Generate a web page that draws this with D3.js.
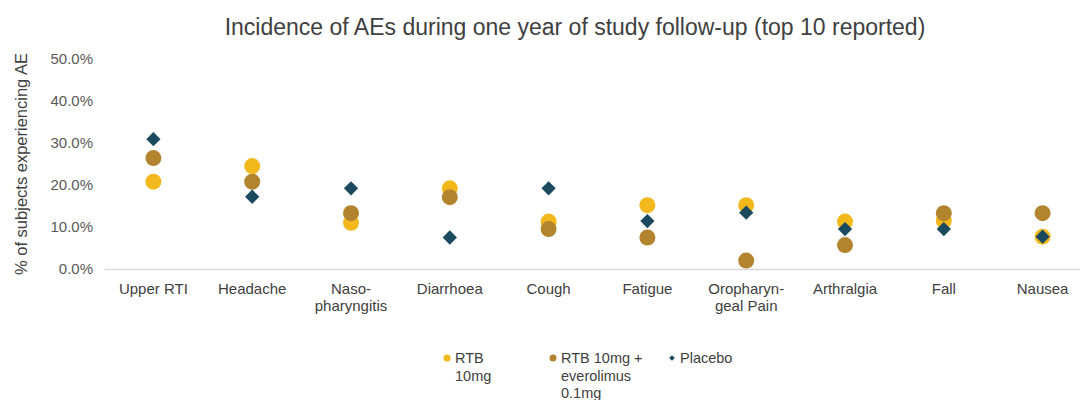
<!DOCTYPE html>
<html>
<head>
<meta charset="utf-8">
<script src="https://cdn.jsdelivr.net/npm/d3@7"></script>
<style>
  body { margin: 0; background: #fff; }
  text { font-family: "Liberation Sans", Arial, sans-serif; }
</style>
</head>
<body>
<div id="chart"></div>
<script>
const categories = ['Upper RTI', 'Headache', 'Naso-\npharyngitis', 'Diarrhoea', 'Cough', 'Fatigue',
  'Oropharyn-\ngeal Pain', 'Arthralgia', 'Fall', 'Nausea'];
const rtb10 = [20.8, 24.5, 11.0, 19.2, 11.3, 15.2, 15.2, 11.3, 11.5, 7.7];
const rtbEvero = [26.4, 20.8, 13.3, 17.1, 9.5, 7.5, 2.0, 5.7, 13.3, 13.3];
const placebo = [30.9, 17.2, 19.2, 7.5, 19.2, 11.4, 13.4, 9.5, 9.5, 7.7];
const yTicks = [0, 10, 20, 30, 40, 50];

const width = 1080, height = 400;
const margin = { top: 59, left: 104, right: -12, bottom: 131 };

const svg = d3.select('#chart').append('svg')
  .attr('width', width)
  .attr('height', height);

// scales
const x = d3.scaleBand().domain(categories).range([margin.left, width - margin.right]);
const y = d3.scaleLinear().domain([0, 50]).range([height - margin.bottom, margin.top]);

// title
svg.append('text')
  .attr('x', 575).attr('y', 35)
  .attr('text-anchor', 'middle')
  .style('font-size', '23px').style('fill', '#404040')
  .text('Incidence of AEs during one year of study follow-up (top 10 reported)');

// y axis
const yAxis = svg.append('g')
  .attr('transform', `translate(${margin.left}, 0)`)
  .call(d3.axisLeft(y).tickValues(yTicks).tickSize(0).tickPadding(11).tickFormat(d => d.toFixed(1) + '%'));
yAxis.select('.domain').remove();
yAxis.selectAll('text').style('font-size', '15px').style('fill', '#595959');

svg.append('text')
  .attr('transform', `translate(27, ${(y(0) + y(50)) / 2}) rotate(-90)`)
  .attr('text-anchor', 'middle')
  .style('font-size', '16.5px').style('fill', '#404040')
  .text('% of subjects experiencing AE');

// x axis
const xAxis = svg.append('g')
  .attr('transform', `translate(0, ${y(0)})`)
  .call(d3.axisBottom(x).tickSize(0).tickFormat(''));
xAxis.select('.domain').attr('stroke', '#d9d9d9').attr('stroke-width', 1.3);
xAxis.selectAll('.tick').each(function(d) {
  const t = d3.select(this).append('text')
    .attr('text-anchor', 'middle')
    .style('font-size', '15px').style('fill', '#404040');
  d.split('\n').forEach((line, i) => {
    t.append('tspan').attr('x', 0).attr('y', 25 + i * 17).text(line);
  });
});

const cx = d => x(d) + x.bandwidth() / 2;

// series
const series = [
  { name: 'RTB 10mg', values: rtb10, color: '#F2B81C', shape: 'circle' },
  { name: 'RTB 10mg + everolimus 0.1mg', values: rtbEvero, color: '#B3842E', shape: 'circle' },
  { name: 'Placebo', values: placebo, color: '#1B4A5E', shape: 'diamond' }
];

series.forEach(s => {
  const g = svg.append('g').attr('class', 'series');
  if (s.shape === 'circle') {
    g.selectAll('circle').data(s.values).enter().append('circle')
      .attr('cx', (d, i) => cx(categories[i]))
      .attr('cy', d => y(d))
      .attr('r', 8)
      .style('fill', s.color);
  } else {
    g.selectAll('path').data(s.values).enter().append('path')
      .attr('d', d3.symbol(d3.symbolDiamond2, 130))
      .attr('transform', (d, i) => `translate(${cx(categories[i])}, ${y(d)})`)
      .style('fill', s.color);
  }
});

// legend
const legend = [
  { lines: ['RTB', '10mg'], color: '#F2B81C', shape: 'circle', x: 447 },
  { lines: ['RTB 10mg +', 'everolimus', '0.1mg'], color: '#B3842E', shape: 'circle', x: 553 },
  { lines: ['Placebo'], color: '#1B4A5E', shape: 'diamond', x: 672 }
];
legend.forEach(l => {
  const g = svg.append('g').attr('transform', `translate(${l.x}, 358)`);
  if (l.shape === 'circle') {
    g.append('circle').attr('r', 3.5).style('fill', l.color);
  } else {
    g.append('path').attr('d', d3.symbol(d3.symbolDiamond2, 20)).style('fill', l.color);
  }
  const t = g.append('text').style('font-size', '14.5px').style('fill', '#404040');
  l.lines.forEach((line, i) => {
    t.append('tspan').attr('x', 8).attr('y', 5 + i * 17.5).text(line);
  });
});
</script>
</body>
</html>
